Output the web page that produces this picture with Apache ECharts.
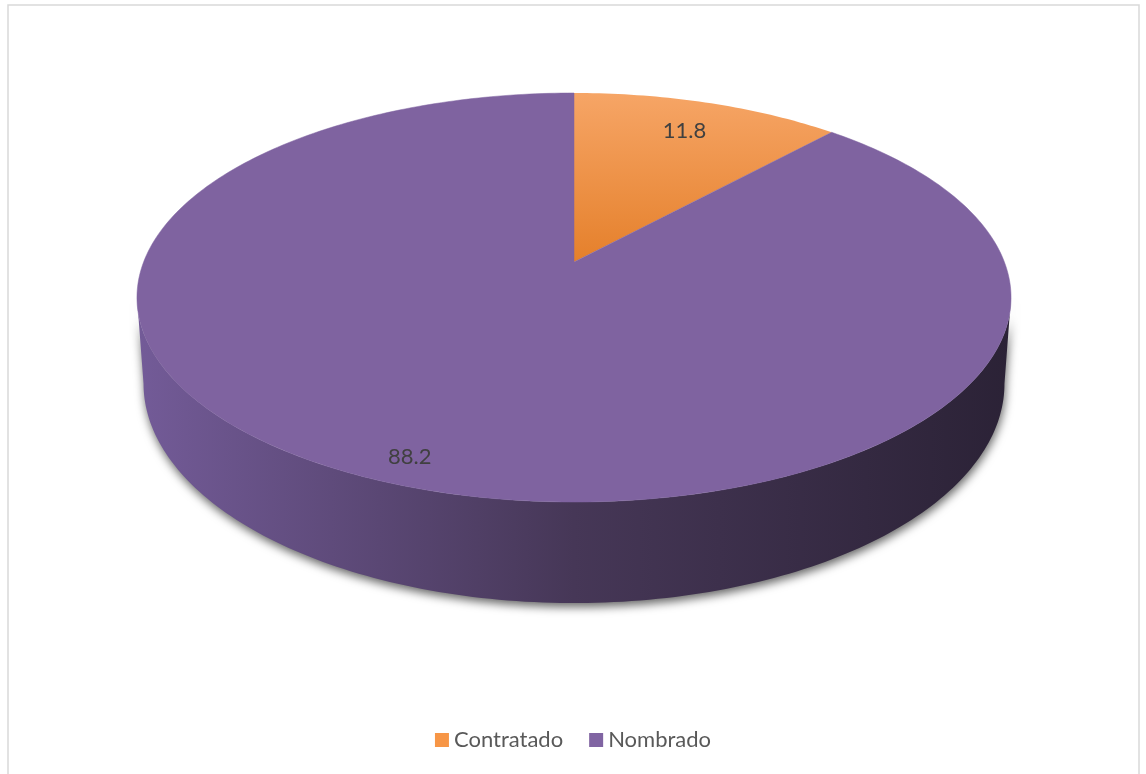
<!DOCTYPE html>
<html>
<head>
<meta charset="utf-8">
<script src="https://cdn.jsdelivr.net/npm/echarts@6/dist/echarts.min.js"></script>
<style>
  html, body { margin: 0; padding: 0; background: #ffffff; }
  #chart { width: 1146px; height: 774px; }
</style>
</head>
<body>
<div id="chart"></div>
<script>
// Share of staff by contract type (%)
const categories = ['Contratado', 'Nombrado'];
const values = [11.8, 88.2];

// Slice colours: top face gradient (light -> dark) and legend swatch
const sliceTop = [['#f6a566', '#e5802b'], ['#7f63a0', '#7f63a0']];
const sliceLegend = ['#f79646', '#8064a2'];
// Distance of each value label from the centre, as a fraction of the radius
const labelRadius = [0.8, 0.9];

// Perspective view of a tilted disc: pie centre, horizontal scale,
// projective terms for depth, wall thickness and downward taper
const VIEW = { cx: 574, cy: 262, K: 430.4, A: -152.86, C: 0.1736, depth: 83.5, taper: 0.985 };

function project(theta, rho, drop) {
  const u = rho * Math.sin(theta);
  const v = rho * Math.cos(theta);
  const s = 1 / (1 + VIEW.C * v);
  let x = VIEW.cx + u * VIEW.K * s;
  let y = (VIEW.A * v + VIEW.cy) * s;
  if (drop) {
    x = VIEW.cx + (x - VIEW.cx) * VIEW.taper;
    y += VIEW.depth * s;
  }
  return [x, y];
}

function arc(a, b, drop) {
  const pts = [];
  const n = Math.max(2, Math.ceil((b - a) / (Math.PI * 2) * 360));
  for (let i = 0; i <= n; i++) {
    pts.push(project(a + (b - a) * i / n, 1, drop));
  }
  return pts;
}

const total = values.reduce((s, v) => s + v, 0);
const TWO_PI = Math.PI * 2;
// front part of the rim (where the side wall shows)
const frontA = Math.acos(-VIEW.C);
const frontB = TWO_PI - frontA;

function renderSlice(params, api) {
  const idx = params.seriesIndex;
  let before = 0;
  for (let i = 0; i < idx; i++) before += values[i];
  const value = api.value(0);
  const a = before / total * TWO_PI;
  const b = (before + value) / total * TWO_PI;
  const children = [];

  // side wall on the visible front
  const wa = Math.max(a, frontA), wb = Math.min(b, frontB);
  if (wb > wa) {
    const topRim = arc(wa, wb, false);
    const botRim = arc(wa, wb, true).reverse();
    children.push({
      type: 'polygon',
      shape: { points: topRim.concat(botRim) },
      style: {
        fill: {
          type: 'linear', x: 137, y: 0, x2: 1011, y2: 0, global: true,
          colorStops: [
            { offset: 0, color: '#735b98' },
            { offset: 0.5, color: '#463757' },
            { offset: 1, color: '#2b2236' }
          ]
        },
        shadowBlur: 10,
        shadowColor: 'rgba(0,0,0,0.6)',
        shadowOffsetX: 1,
        shadowOffsetY: 4
      }
    });
  }

  // top face
  const top = [project(0, 0, false)].concat(arc(a, b, false));
  const cols = sliceTop[idx];
  children.push({
    type: 'polygon',
    shape: { points: top },
    style: {
      fill: {
        type: 'linear', x: 0, y: 93, x2: 0, y2: 262, global: true,
        colorStops: [{ offset: 0, color: cols[0] }, { offset: 1, color: cols[1] }]
      },
      stroke: cols[1] === cols[0] ? cols[0] : null,
      lineWidth: 0.5
    }
  });

  // value label
  const mid = (a + b) / 2;
  const lp = project(mid, labelRadius[idx], false);
  children.push({
    type: 'text',
    style: {
      text: String(value),
      x: lp[0], y: lp[1],
      align: 'center', verticalAlign: 'middle',
      fill: '#404040',
      fontSize: 22,
      fontFamily: 'Lato, "Noto Sans", sans-serif'
    }
  });

  return { type: 'group', children: children };
}

const chart = echarts.init(document.getElementById('chart'), null, { renderer: 'canvas' });

const series = categories.map((name, i) => ({
  type: 'custom',
  name: name,
  coordinateSystem: 'none',
  renderItem: renderSlice,
  itemStyle: { color: sliceLegend[i] },
  data: [[values[i]]],
  z: 2 + i,
  silent: true
}));

chart.setOption({
  animation: false,
  backgroundColor: '#ffffff',
  graphic: [{
    type: 'rect',
    shape: { x: 8, y: 5, width: 1131, height: 800 },
    style: { fill: 'none', stroke: '#d9d9d9', lineWidth: 1.5 },
    silent: true
  }],
  legend: {
    data: categories,
    bottom: 18,
    left: 'center',
    icon: 'rect',
    itemWidth: 14,
    itemHeight: 14,
    itemGap: 26,
    textStyle: { fontSize: 22, color: '#595959', fontFamily: 'Lato, "Noto Sans", sans-serif' }
  },
  series: series
});
</script>
</body>
</html>
